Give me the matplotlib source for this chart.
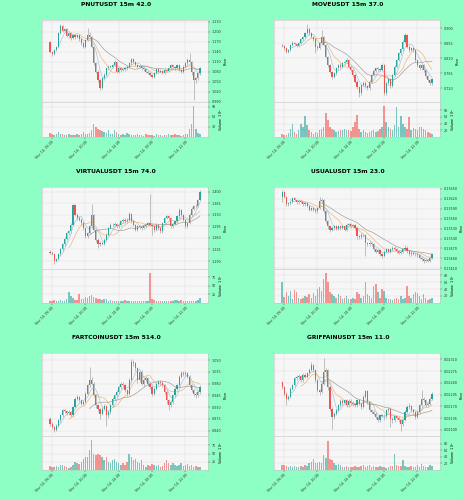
import numpy as np
import pandas as pd
import matplotlib
matplotlib.use('Agg')
import matplotlib.pyplot as plt
from matplotlib.ticker import MultipleLocator, FormatStrFormatter

BG = '#8effc4'
UP = '#26a69a'
DOWN = '#ef5350'
WICK = '#a8a8a8'
MA_COLORS = ['#9ec3dc', '#efb36e', '#9a9a9a']
MA_PERIODS = [5, 10, 20]

tick_pos = [1, 17, 33, 49, 65]
tick_labels = ['Nov 14, 06:00', 'Nov 14, 10:00', 'Nov 14, 14:00', 'Nov 14, 18:00', 'Nov 14, 22:00']

# ---- PNUTUSDT ----
pnut_open0 = 1.170
pnut_close = [1.140, 1.133, 1.145, 1.155, 1.195, 1.217, 1.203, 1.207, 1.187, 1.195,
              1.180, 1.190, 1.183, 1.190, 1.177, 1.165, 1.155, 1.175, 1.190, 1.185,
              1.155, 1.105, 1.080, 1.055, 1.030, 1.060, 1.070, 1.090, 1.095, 1.095,
              1.100, 1.110, 1.080, 1.090, 1.085, 1.087, 1.090, 1.095, 1.105, 1.117,
              1.110, 1.100, 1.095, 1.097, 1.090, 1.087, 1.080, 1.077, 1.070, 1.065,
              1.075, 1.087, 1.080, 1.083, 1.077, 1.085, 1.083, 1.090, 1.100, 1.095,
              1.090, 1.100, 1.085, 1.080, 1.095, 1.105, 1.115, 1.110, 1.080, 1.055,
              1.060, 1.075, 1.090]
pnut_high = [1.173, 1.143, 1.148, 1.158, 1.199, 1.223, 1.220, 1.211, 1.210, 1.199,
             1.198, 1.193, 1.194, 1.194, 1.193, 1.180, 1.168, 1.178, 1.210, 1.200,
             1.188, 1.158, 1.110, 1.084, 1.058, 1.064, 1.075, 1.094, 1.099, 1.100,
             1.104, 1.114, 1.112, 1.094, 1.094, 1.091, 1.094, 1.099, 1.108, 1.122,
             1.120, 1.113, 1.103, 1.101, 1.100, 1.094, 1.090, 1.084, 1.080, 1.073,
             1.078, 1.091, 1.090, 1.087, 1.086, 1.089, 1.088, 1.094, 1.104, 1.103,
             1.098, 1.104, 1.102, 1.088, 1.099, 1.109, 1.120, 1.135, 1.113, 1.083,
             1.064, 1.079, 1.094]
pnut_low = [1.136, 1.128, 1.130, 1.142, 1.152, 1.192, 1.199, 1.199, 1.183, 1.184,
            1.176, 1.177, 1.179, 1.180, 1.172, 1.160, 1.150, 1.152, 1.172, 1.180,
            1.150, 1.100, 1.075, 1.048, 1.025, 1.027, 1.055, 1.066, 1.086, 1.090,
            1.090, 1.096, 1.076, 1.077, 1.080, 1.081, 1.083, 1.086, 1.091, 1.101,
            1.106, 1.096, 1.091, 1.091, 1.086, 1.083, 1.076, 1.073, 1.066, 1.060,
            1.062, 1.072, 1.076, 1.077, 1.073, 1.074, 1.079, 1.080, 1.087, 1.091,
            1.086, 1.087, 1.081, 1.076, 1.077, 1.092, 1.101, 1.106, 1.070, 0.995,
            1.045, 1.056, 1.071]
pnut_vol = [12, 8, 6, 10, 15, 10, 8, 6, 5, 8, 6, 5, 6, 8, 6, 10, 14, 8, 10, 12,
            22, 38, 30, 25, 20, 18, 14, 12, 20, 10, 8, 20, 14, 8, 6, 10, 6, 12, 8, 6,
            6, 5, 8, 6, 5, 4, 8, 6, 5, 6, 4, 8, 6, 5, 4, 6, 5, 8, 6, 5,
            10, 6, 5, 4, 6, 8, 10, 25, 40, 92, 25, 12, 8]

# ---- MOVEUSDT ----
move_open0 = 0.850
move_close = [0.847, 0.840, 0.830, 0.835, 0.850, 0.857, 0.853, 0.847, 0.855, 0.867,
              0.873, 0.885, 0.897, 0.885, 0.875, 0.867, 0.845, 0.840, 0.855, 0.873,
              0.850, 0.815, 0.790, 0.770, 0.755, 0.765, 0.780, 0.790, 0.785, 0.795,
              0.800, 0.805, 0.785, 0.775, 0.760, 0.740, 0.725, 0.705, 0.730, 0.737,
              0.727, 0.720, 0.740, 0.760, 0.773, 0.780, 0.777, 0.775, 0.790, 0.705,
              0.735, 0.747, 0.727, 0.760, 0.785, 0.805, 0.825, 0.837, 0.860, 0.880,
              0.845, 0.835, 0.840, 0.835, 0.805, 0.790, 0.780, 0.790, 0.775, 0.757,
              0.745, 0.735, 0.747]
move_high = [0.854, 0.850, 0.843, 0.839, 0.854, 0.861, 0.860, 0.856, 0.859, 0.871,
             0.877, 0.889, 0.913, 0.902, 0.889, 0.878, 0.870, 0.850, 0.859, 0.895,
             0.877, 0.853, 0.818, 0.794, 0.773, 0.769, 0.784, 0.794, 0.795, 0.799,
             0.804, 0.810, 0.808, 0.789, 0.778, 0.763, 0.744, 0.728, 0.734, 0.742,
             0.741, 0.731, 0.744, 0.764, 0.777, 0.785, 0.784, 0.782, 0.795, 0.793,
             0.739, 0.751, 0.750, 0.764, 0.789, 0.809, 0.829, 0.842, 0.864, 0.885,
             0.883, 0.849, 0.845, 0.844, 0.838, 0.809, 0.794, 0.794, 0.794, 0.778,
             0.760, 0.749, 0.751]
move_low = [0.843, 0.836, 0.825, 0.827, 0.832, 0.846, 0.849, 0.843, 0.844, 0.852,
            0.863, 0.870, 0.882, 0.881, 0.871, 0.862, 0.825, 0.835, 0.837, 0.851,
            0.846, 0.810, 0.785, 0.765, 0.748, 0.751, 0.761, 0.776, 0.780, 0.781,
            0.791, 0.796, 0.781, 0.770, 0.755, 0.735, 0.718, 0.695, 0.701, 0.726,
            0.722, 0.714, 0.716, 0.736, 0.756, 0.769, 0.772, 0.770, 0.771, 0.700,
            0.701, 0.731, 0.722, 0.723, 0.756, 0.781, 0.801, 0.821, 0.833, 0.856,
            0.840, 0.830, 0.831, 0.830, 0.800, 0.785, 0.775, 0.776, 0.770, 0.752,
            0.740, 0.730, 0.731]
move_vol = [8, 5, 5, 12, 25, 40, 15, 10, 20, 40, 30, 62, 37, 20, 15, 10, 15, 12, 20, 25,
            30, 70, 50, 30, 25, 20, 15, 18, 20, 22, 25, 20, 22, 18, 30, 45, 65, 25, 15, 20,
            15, 12, 15, 18, 20, 15, 18, 25, 30, 93, 45, 30, 25, 20, 35, 88, 30, 63, 40, 30,
            25, 60, 20, 28, 25, 22, 30, 30, 25, 20, 15, 12, 10]

# ---- VIRTUALUSDT ----
virt_open0 = 1.218
virt_close = [1.215, 1.212, 1.190, 1.195, 1.210, 1.225, 1.240, 1.258, 1.275, 1.280,
              1.300, 1.360, 1.330, 1.320, 1.315, 1.305, 1.290, 1.265, 1.275, 1.295,
              1.330, 1.285, 1.255, 1.240, 1.245, 1.242, 1.255, 1.270, 1.290, 1.300,
              1.298, 1.302, 1.295, 1.300, 1.310, 1.315, 1.310, 1.315, 1.332, 1.310,
              1.300, 1.285, 1.295, 1.292, 1.290, 1.295, 1.300, 1.305, 1.300, 1.295,
              1.285, 1.300, 1.290, 1.280, 1.305, 1.320, 1.325, 1.320, 1.295, 1.302,
              1.310, 1.325, 1.345, 1.330, 1.315, 1.295, 1.305, 1.330, 1.348, 1.355,
              1.358, 1.375, 1.400]
virt_high = [1.222, 1.219, 1.215, 1.199, 1.214, 1.229, 1.244, 1.262, 1.279, 1.285,
             1.304, 1.363, 1.362, 1.334, 1.325, 1.319, 1.308, 1.293, 1.279, 1.299,
             1.362, 1.333, 1.288, 1.259, 1.250, 1.250, 1.259, 1.274, 1.294, 1.304,
             1.305, 1.307, 1.306, 1.304, 1.314, 1.319, 1.319, 1.319, 1.337, 1.335,
             1.313, 1.303, 1.299, 1.299, 1.296, 1.299, 1.304, 1.309, 1.392, 1.303,
             1.298, 1.304, 1.303, 1.293, 1.309, 1.324, 1.329, 1.330, 1.323, 1.306,
             1.314, 1.329, 1.350, 1.348, 1.333, 1.318, 1.309, 1.334, 1.352, 1.359,
             1.362, 1.379, 1.405]
virt_low = [1.211, 1.207, 1.180, 1.186, 1.192, 1.206, 1.221, 1.236, 1.254, 1.270,
            1.276, 1.296, 1.326, 1.315, 1.310, 1.300, 1.285, 1.260, 1.261, 1.271,
            1.291, 1.280, 1.248, 1.230, 1.236, 1.237, 1.238, 1.251, 1.266, 1.286,
            1.293, 1.293, 1.290, 1.290, 1.296, 1.306, 1.305, 1.305, 1.311, 1.305,
            1.295, 1.280, 1.281, 1.287, 1.285, 1.286, 1.291, 1.296, 1.296, 1.270,
            1.278, 1.281, 1.285, 1.275, 1.276, 1.301, 1.316, 1.315, 1.290, 1.291,
            1.298, 1.306, 1.321, 1.326, 1.310, 1.290, 1.291, 1.301, 1.326, 1.344,
            1.351, 1.354, 1.371]
virt_vol = [6, 4, 8, 6, 5, 8, 6, 5, 10, 30, 20, 15, 8, 8, 25, 12, 10, 18, 15, 20,
            22, 18, 15, 12, 10, 8, 12, 10, 6, 8, 5, 6, 5, 4, 6, 5, 8, 6, 5, 6,
            5, 4, 6, 5, 5, 4, 6, 5, 88, 12, 8, 6, 5, 6, 5, 6, 5, 4, 6, 5,
            8, 8, 6, 8, 5, 6, 5, 4, 6, 5, 6, 8, 15]

# ---- USUALUSDT ----
usual_open0 = 0.13627
usual_close = [0.13640, 0.13627, 0.13604, 0.13607, 0.13612, 0.13622, 0.13617, 0.13610, 0.13614, 0.13612,
               0.13604, 0.13607, 0.13600, 0.13587, 0.13592, 0.13587, 0.13582, 0.13592, 0.13614, 0.13617,
               0.13582, 0.13552, 0.13537, 0.13527, 0.13532, 0.13537, 0.13530, 0.13537, 0.13532, 0.13537,
               0.13527, 0.13542, 0.13544, 0.13537, 0.13540, 0.13532, 0.13507, 0.13504, 0.13512, 0.13510,
               0.13487, 0.13482, 0.13487, 0.13482, 0.13467, 0.13460, 0.13464, 0.13452, 0.13447, 0.13460,
               0.13467, 0.13460, 0.13467, 0.13472, 0.13467, 0.13462, 0.13457, 0.13460, 0.13467, 0.13472,
               0.13462, 0.13452, 0.13457, 0.13454, 0.13452, 0.13450, 0.13442, 0.13437, 0.13432, 0.13435,
               0.13432, 0.13442, 0.13452]
usual_high = [0.13646, 0.13644, 0.13630, 0.13612, 0.13616, 0.13626, 0.13626, 0.13620, 0.13618, 0.13618,
              0.13615, 0.13611, 0.13610, 0.13603, 0.13596, 0.13596, 0.13591, 0.13596, 0.13627, 0.13622,
              0.13620, 0.13585, 0.13556, 0.13541, 0.13537, 0.13541, 0.13541, 0.13541, 0.13541, 0.13541,
              0.13540, 0.13546, 0.13548, 0.13548, 0.13544, 0.13543, 0.13535, 0.13511, 0.13517, 0.13516,
              0.13513, 0.13491, 0.13492, 0.13491, 0.13485, 0.13471, 0.13469, 0.13467, 0.13456, 0.13465,
              0.13472, 0.13471, 0.13472, 0.13477, 0.13476, 0.13471, 0.13466, 0.13465, 0.13472, 0.13480,
              0.13476, 0.13466, 0.13462, 0.13461, 0.13459, 0.13457, 0.13454, 0.13446, 0.13441, 0.13439,
              0.13439, 0.13446, 0.13457]
usual_low = [0.13612, 0.13622, 0.13598, 0.13600, 0.13603, 0.13608, 0.13613, 0.13606, 0.13606, 0.13608,
             0.13599, 0.13600, 0.13595, 0.13582, 0.13583, 0.13582, 0.13577, 0.13578, 0.13588, 0.13608,
             0.13577, 0.13546, 0.13530, 0.13520, 0.13522, 0.13527, 0.13525, 0.13526, 0.13527, 0.13528,
             0.13522, 0.13523, 0.13538, 0.13533, 0.13533, 0.13527, 0.13500, 0.13498, 0.13500, 0.13505,
             0.13447, 0.13476, 0.13478, 0.13477, 0.13462, 0.13455, 0.13456, 0.13447, 0.13441, 0.13443,
             0.13456, 0.13455, 0.13456, 0.13463, 0.13462, 0.13457, 0.13452, 0.13453, 0.13456, 0.13463,
             0.13457, 0.13446, 0.13448, 0.13449, 0.13447, 0.13445, 0.13437, 0.13432, 0.13427, 0.13428,
             0.13428, 0.13429, 0.13438]
usual_vol = [62, 18, 30, 20, 33, 10, 38, 30, 15, 12, 15, 20, 18, 25, 15, 28, 20, 40, 45, 35,
             70, 88, 60, 30, 25, 20, 15, 25, 20, 12, 15, 20, 10, 12, 15, 10, 30, 25, 15, 20,
             62, 25, 20, 15, 50, 55, 30, 15, 40, 35, 15, 10, 12, 8, 10, 15, 12, 20, 10, 15,
             48, 20, 15, 25, 30, 28, 20, 10, 25, 15, 8, 10, 15]

# ---- FARTCOINUSDT ----
fart_open0 = 0.875
fart_close = [0.860, 0.850, 0.842, 0.855, 0.870, 0.885, 0.900, 0.897, 0.892, 0.895,
              0.885, 0.910, 0.935, 0.940, 0.930, 0.920, 0.925, 0.950, 0.975, 0.992,
              0.980, 0.945, 0.915, 0.905, 0.890, 0.905, 0.912, 0.885, 0.895, 0.915,
              0.935, 0.945, 0.955, 0.970, 0.980, 0.975, 0.960, 0.950, 0.990, 1.045,
              1.040, 1.025, 0.990, 1.015, 0.980, 0.990, 0.995, 0.980, 0.970, 0.950,
              0.965, 0.980, 0.985, 0.982, 0.975, 0.955, 0.930, 0.915, 0.925, 0.945,
              0.965, 0.975, 1.000, 1.010, 1.008, 1.010, 1.000, 0.975, 0.960, 0.950,
              0.945, 0.955, 0.970]
fart_high = [0.880, 0.864, 0.855, 0.859, 0.874, 0.889, 0.905, 0.905, 0.901, 0.900,
             0.899, 0.914, 0.939, 0.946, 0.944, 0.934, 0.930, 0.954, 0.980, 1.030,
             1.000, 0.984, 0.948, 0.920, 0.908, 0.910, 0.918, 0.916, 0.900, 0.920,
             0.940, 0.950, 0.960, 0.975, 0.986, 0.986, 0.980, 0.965, 0.995, 1.052,
             1.050, 1.045, 1.030, 1.020, 1.020, 0.996, 1.002, 1.000, 0.985, 0.975,
             0.970, 0.986, 0.991, 0.990, 0.987, 0.980, 0.960, 0.935, 0.930, 0.950,
             0.970, 0.980, 1.006, 1.016, 1.016, 1.016, 1.015, 1.005, 0.980, 0.965,
             0.955, 0.960, 0.975]
fart_low = [0.855, 0.845, 0.835, 0.838, 0.851, 0.866, 0.881, 0.892, 0.887, 0.887,
            0.880, 0.881, 0.906, 0.930, 0.925, 0.915, 0.915, 0.921, 0.946, 0.970,
            0.975, 0.940, 0.908, 0.898, 0.875, 0.885, 0.900, 0.855, 0.878, 0.890,
            0.910, 0.930, 0.940, 0.950, 0.965, 0.970, 0.955, 0.944, 0.946, 0.985,
            1.033, 1.018, 0.982, 0.985, 0.975, 0.974, 0.985, 0.974, 0.964, 0.944,
            0.945, 0.960, 0.975, 0.977, 0.970, 0.950, 0.920, 0.900, 0.910, 0.920,
            0.940, 0.960, 0.970, 0.995, 1.002, 1.003, 0.995, 0.970, 0.955, 0.944,
            0.938, 0.940, 0.950]
fart_vol = [12, 10, 8, 12, 10, 15, 15, 12, 8, 6, 10, 15, 25, 20, 18, 25, 35, 40, 40, 62,
            92, 50, 45, 50, 45, 40, 30, 40, 25, 20, 30, 35, 25, 20, 15, 20, 15, 25, 50, 40,
            30, 35, 25, 20, 30, 15, 10, 15, 12, 18, 15, 12, 15, 10, 12, 20, 30, 20, 15, 20,
            15, 12, 15, 20, 12, 15, 18, 12, 15, 10, 12, 10, 8]

# ---- GRIFFAINUSDT ----
grif_open0 = 0.02243
grif_close = [0.02228, 0.02208, 0.02193, 0.02198, 0.02223, 0.02233, 0.02253, 0.02258, 0.02260, 0.02248,
              0.02263, 0.02258, 0.02268, 0.02278, 0.02293, 0.02278, 0.02248, 0.02218, 0.02213, 0.02238,
              0.02273, 0.02278, 0.02228, 0.02163, 0.02138, 0.02148, 0.02158, 0.02173, 0.02186, 0.02180,
              0.02188, 0.02173, 0.02186, 0.02180, 0.02176, 0.02173, 0.02188, 0.02178, 0.02168, 0.02198,
              0.02215, 0.02183, 0.02158, 0.02153, 0.02148, 0.02138, 0.02128, 0.02143, 0.02142, 0.02140,
              0.02158, 0.02163, 0.02133, 0.02128, 0.02140, 0.02136, 0.02128, 0.02118, 0.02130, 0.02153,
              0.02168, 0.02170, 0.02158, 0.02153, 0.02138, 0.02153, 0.02173, 0.02193, 0.02188, 0.02173,
              0.02178, 0.02193, 0.02208]
grif_high = [0.02247, 0.02232, 0.02212, 0.02203, 0.02227, 0.02238, 0.02257, 0.02263, 0.02266, 0.02264,
             0.02268, 0.02268, 0.02273, 0.02283, 0.02301, 0.02297, 0.02282, 0.02252, 0.02223, 0.02243,
             0.02313, 0.02285, 0.02282, 0.02232, 0.02167, 0.02153, 0.02163, 0.02178, 0.02191, 0.02191,
             0.02193, 0.02192, 0.02191, 0.02191, 0.02185, 0.02181, 0.02193, 0.02192, 0.02182, 0.02203,
             0.02220, 0.02219, 0.02187, 0.02163, 0.02158, 0.02152, 0.02142, 0.02147, 0.02148, 0.02147,
             0.02163, 0.02168, 0.02167, 0.02137, 0.02145, 0.02145, 0.02140, 0.02132, 0.02135, 0.02158,
             0.02173, 0.02180, 0.02174, 0.02163, 0.02157, 0.02158, 0.02178, 0.02218, 0.02198, 0.02192,
             0.02183, 0.02198, 0.02213]
grif_low = [0.02222, 0.02202, 0.02175, 0.02188, 0.02194, 0.02219, 0.02229, 0.02248, 0.02252, 0.02243,
            0.02244, 0.02253, 0.02254, 0.02264, 0.02274, 0.02273, 0.02243, 0.02212, 0.02205, 0.02209,
            0.02234, 0.02260, 0.02220, 0.02155, 0.02103, 0.02132, 0.02143, 0.02154, 0.02169, 0.02175,
            0.02176, 0.02168, 0.02169, 0.02175, 0.02171, 0.02168, 0.02169, 0.02173, 0.02163, 0.02164,
            0.02194, 0.02178, 0.02153, 0.02148, 0.02143, 0.02133, 0.02123, 0.02124, 0.02137, 0.02130,
            0.02136, 0.02154, 0.02110, 0.02120, 0.02124, 0.02131, 0.02123, 0.02098, 0.02113, 0.02126,
            0.02149, 0.02163, 0.02153, 0.02148, 0.02133, 0.02134, 0.02149, 0.02169, 0.02183, 0.02168,
            0.02168, 0.02174, 0.02189]
grif_vol = [15, 15, 12, 10, 12, 10, 12, 10, 8, 12, 10, 15, 12, 20, 25, 35, 20, 22, 25, 20,
            45, 38, 90, 35, 30, 20, 15, 18, 15, 10, 8, 12, 8, 10, 8, 12, 10, 8, 12, 15,
            10, 12, 15, 10, 12, 8, 10, 12, 8, 10, 6, 8, 12, 12, 48, 15, 12, 12, 30, 12,
            10, 8, 12, 10, 8, 15, 10, 18, 12, 8, 10, 15, 12]

COL_LEFT = [0.0899, 0.590]
ROWS = [(0.726, 0.7954, 0.960), (0.3946, 0.4628, 0.626), (0.060, 0.1288, 0.2934)]
TITLE_Y = [0.996, 0.662, 0.330]
WIDTH = 0.359
LS = 2.4


def draw_panel(fig, row, col, title, open0, close, high, low, vol,
               ylim, ystep, fmt, vmax, vstep):
    bottom, split, top = ROWS[row]
    left = COL_LEFT[col]
    ax = fig.add_axes([left, split, WIDTH, top - split])
    axv = fig.add_axes([left, bottom, WIDTH, split - bottom], sharex=ax)

    c = np.array(close)
    o = np.r_[open0, c[:-1]]
    h = np.array(high)
    lo = np.array(low)
    x = np.arange(len(c))
    up = c >= o
    colors = np.where(up, UP, DOWN)
    span = ylim[1] - ylim[0]

    ax.vlines(x, lo, h, color=WICK, lw=0.5, zorder=2)
    body = np.maximum(np.abs(c - o), span * 0.004)
    ax.bar(x, body, bottom=np.minimum(o, c), width=0.55, color=colors, lw=0, zorder=3)
    s = pd.Series(c)
    for p, mc in zip(MA_PERIODS, MA_COLORS):
        ax.plot(x, s.rolling(p).mean(), color=mc, lw=0.45, zorder=2)

    axv.bar(x, vol, width=0.7, color=colors, alpha=0.6, lw=0)

    for a in (ax, axv):
        a.set_facecolor('#f6f6f6')
        a.grid(True, color='#dedede', lw=0.35)
        a.set_axisbelow(True)
        a.yaxis.tick_right()
        a.yaxis.set_label_position('right')
        a.tick_params(labelsize=LS, length=1.5, width=0.3, pad=0.8, colors='#333333')
        for sp in a.spines.values():
            sp.set_color('#c4c4c4')
            sp.set_linewidth(0.4)

    ax.set_xlim(-4, 76)
    ax.set_ylim(*ylim)
    ax.yaxis.set_major_locator(MultipleLocator(ystep))
    ax.yaxis.set_major_formatter(FormatStrFormatter(fmt))
    ax.set_ylabel('Price', fontsize=LS, labelpad=1.5)
    ax.tick_params(axis='x', labelbottom=False, length=0)

    axv.set_ylim(0, vmax)
    axv.set_yticks(np.arange(vstep, vmax - 8, vstep))
    axv.set_ylabel('Volume  $10^{6}$', fontsize=LS, labelpad=1.5)
    axv.set_xticks(tick_pos)
    axv.set_xticklabels(tick_labels, rotation=45, ha='right', rotation_mode='anchor')

    fig.text(0.25 + 0.5 * col, TITLE_Y[row], title, ha='center', va='top',
             fontsize=4.3, fontweight='bold')


fig = plt.figure(figsize=(4.64, 5.0), dpi=100)
fig.patch.set_facecolor(BG)

draw_panel(fig, 0, 0, 'PNUTUSDT 15m 42.0', pnut_open0, pnut_close, pnut_high, pnut_low, pnut_vol,
           (0.988, 1.235), 0.03, '%.3f', 103, 30)
draw_panel(fig, 0, 1, 'MOVEUSDT 15m 37.0', move_open0, move_close, move_high, move_low, move_vol,
           (0.678, 0.925), 0.045, '%.3f', 103, 20)
draw_panel(fig, 1, 0, 'VIRTUALUSDT 15m 74.0', virt_open0, virt_close, virt_high, virt_low, virt_vol,
           (1.167, 1.414), 0.035, '%.3f', 100, 25)
draw_panel(fig, 1, 1, 'USUALUSDT 15m 23.0', usual_open0, usual_close, usual_high, usual_low, usual_vol,
           (0.13409, 0.13656), 0.0003, '%.5f', 100, 20)
draw_panel(fig, 2, 0, 'FARTCOINUSDT 15m 514.0', fart_open0, fart_close, fart_high, fart_low, fart_vol,
           (0.825, 1.070), 0.035, '%.3f', 105, 25)
draw_panel(fig, 2, 1, 'GRIFFAINUSDT 15m 11.0', grif_open0, grif_close, grif_high, grif_low, grif_vol,
           (0.02083, 0.02328), 0.00035, '%.5f', 105, 20)

fig.savefig('out.png', dpi=100, facecolor=BG)
